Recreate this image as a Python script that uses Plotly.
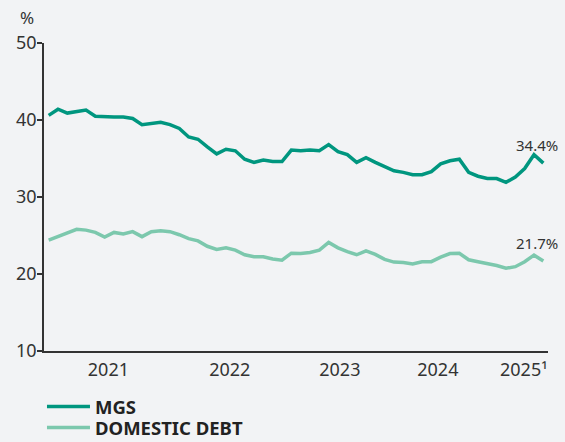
import plotly.graph_objects as go

# Monthly observations (54 periods)
periods = list(range(54))

mgs = [40.6, 41.4, 40.9, 41.1, 41.3, 40.5, 40.4, 40.4, 40.4, 40.2,
       39.4, 39.5, 39.7, 39.4, 38.9, 37.8, 37.5, 36.5, 35.6, 36.2,
       36.0, 34.9, 34.5, 34.8, 34.6, 34.6, 36.1, 36.0, 36.1, 36.0,
       36.8, 35.9, 35.5, 34.5, 35.1, 34.5, 33.9, 33.4, 33.2, 32.9,
       32.9, 33.3, 34.3, 34.7, 34.9, 33.2, 32.7, 32.4, 32.4, 31.9,
       32.6, 33.7, 35.5, 34.4]

domestic_debt = [24.4, 24.9, 25.4, 25.8, 25.7, 25.4, 24.8, 25.4, 25.2, 25.5,
                 24.85, 25.5, 25.6, 25.5, 25.1, 24.6, 24.3, 23.6, 23.2, 23.4,
                 23.1, 22.5, 22.25, 22.25, 21.95, 21.8, 22.7, 22.65, 22.8, 23.1,
                 24.1, 23.4, 22.9, 22.5, 23.0, 22.55, 21.9, 21.55, 21.5, 21.3,
                 21.6, 21.6, 22.2, 22.65, 22.7, 21.85, 21.6, 21.4, 21.1, 20.75,
                 20.95, 21.6, 22.45, 21.7]

year_labels = ["2021", "2022", "2023", "2024", "2025\u00b9"]
year_label_pos = [6.4, 19.4, 31.2, 41.7, 50.9]

y_ticks = [10, 20, 30, 40, 50]

MGS_COLOR = "#00967f"
DD_COLOR = "#7cc8ad"
TEXT = "#333333"
BG = "#f2f3f5"
FONT = "Noto Sans"

fig = go.Figure()
fig.add_trace(go.Scatter(x=periods, y=mgs, mode="lines", name="<b>MGS</b>",
                         line=dict(color=MGS_COLOR, width=3.5), legend="legend"))
fig.add_trace(go.Scatter(x=periods, y=domestic_debt, mode="lines",
                         name="<b>DOMESTIC DEBT</b>",
                         line=dict(color=DD_COLOR, width=3.5), legend="legend2"))

fig.add_annotation(x=periods[-1], y=mgs[-1], text=f"{mgs[-1]:.1f}%",
                   showarrow=False, xanchor="center", yanchor="bottom",
                   xshift=-6, yshift=6, font=dict(size=15, color=TEXT, family=FONT))
fig.add_annotation(x=periods[-1], y=domestic_debt[-1], text=f"{domestic_debt[-1]:.1f}%",
                   showarrow=False, xanchor="center", yanchor="bottom",
                   xshift=-6, yshift=6, font=dict(size=15, color=TEXT, family=FONT))
fig.add_annotation(xref="paper", yref="paper", x=-0.033, y=1.0, yshift=26,
                   text="%", showarrow=False, xanchor="center", yanchor="middle",
                   font=dict(size=17, color=TEXT, family=FONT))

legend_common = dict(xref="paper", yref="container", x=-0.004, xanchor="left",
                     yanchor="middle", orientation="v", bgcolor="rgba(0,0,0,0)",
                     font=dict(size=18.5, color="#222222", family=FONT),
                     itemwidth=43)

fig.update_layout(
    width=565, height=442,
    margin=dict(l=44, r=17, t=43, b=91, autoexpand=False),
    paper_bgcolor=BG, plot_bgcolor=BG,
    font=dict(family=FONT, color=TEXT, size=18),
    showlegend=True,
    legend=dict(y=1 - 407 / 442, **legend_common),
    legend2=dict(y=1 - 428 / 442, **legend_common),
    xaxis=dict(range=[-0.5, 53.5], showgrid=False, zeroline=False,
               showline=True, linecolor="#333333", linewidth=1.5,
               tickmode="array", tickvals=year_label_pos, ticktext=year_labels,
               ticks="", ticklabelstandoff=2, tickfont=dict(size=18, color=TEXT)),
    yaxis=dict(range=[10, 50], showgrid=False, zeroline=False,
               showline=True, linecolor="#333333", linewidth=1.5,
               tickmode="array", tickvals=y_ticks,
               ticks="outside", ticklen=5, tickwidth=1.5, tickcolor="#333333",
               ticklabelstandoff=-3, tickfont=dict(size=18, color=TEXT)),
    yaxis2=dict(overlaying="y", matches="y", anchor="x", side="left",
                showgrid=False, zeroline=False, showline=False,
                tickmode="array", tickvals=y_ticks, showticklabels=False,
                ticks="inside", ticklen=7, tickwidth=1.5, tickcolor="#333333"),
)

fig.write_html(
    "out.html",
    config={"displayModeBar": False},
    post_script="document.body.style.margin='0';document.body.style.background='%s';" % BG,
)
